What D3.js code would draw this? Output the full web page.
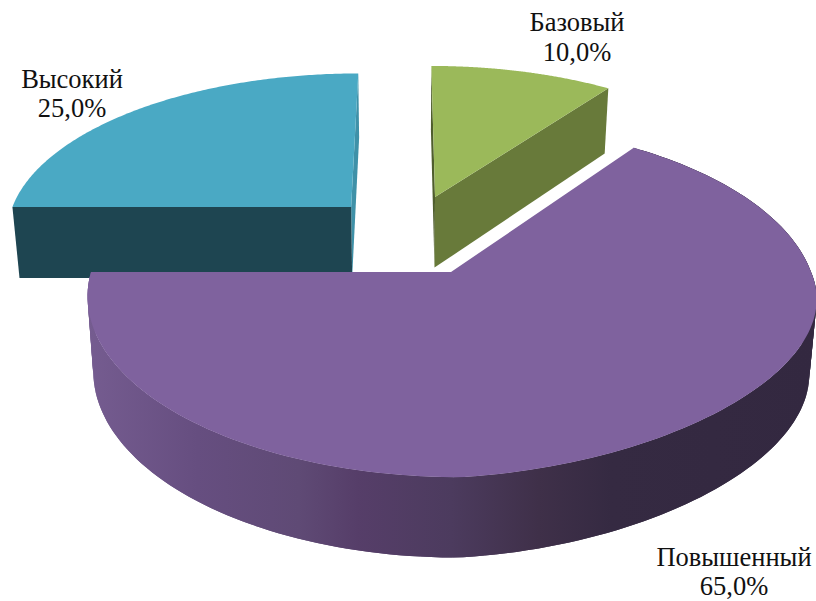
<!DOCTYPE html>
<html><head><meta charset="utf-8">
<script src="https://cdn.jsdelivr.net/npm/d3@7"></script>
<style>html,body{margin:0;padding:0;background:#fff}svg{display:block}text{font-family:"Liberation Serif","Times New Roman",serif;font-size:26.5px;fill:#111}</style>
</head><body><svg id="c" width="816" height="601"></svg>
<script>
const categories = ["Базовый","Повышенный","Высокий"];
const values = [10,65,25];
const topColors = ["#9BB95A","#7F629E","#4AA9C4"];
const sideColors = ["#687A3A","#7F629E","#1E4551"];
const edgeColors = ["#4F5E2D","#7F629E","#3F91A8"];
const labelLines = [["Базовый","10,0%"],["Повышенный","65,0%"],["Высокий","25,0%"]];

const svg = d3.select("#c");
const cx=451, cy=272, rx=360, ry=173, k=0.157, skew=7, vanishX=406;
const offsets=[[-0.0386,-0.465],[0,0],[-0.287,-0.40]];
const labelPos=[[577,31],[734,565.5],[72,87.5]];

function project(X,Y,Z){
  const w=1/(1-k*Y);
  const sx=cx+(rx*X+skew*Y)*w;
  const bend=(Y>0&&X>0) ? -24*X*Y : 0;
  return [sx+(vanishX-sx)*0.018*Z, cy+ry*Y*w+bend+Z*(73.7+6.7*Y)];
}
const line=d3.line().curve(d3.curveLinear);
const arcs=d3.pie().sort(null).value(d=>d)(values);

function ring(a,o,Z){
  const t=d3.scaleLinear().domain([0,160]).range([a.startAngle,a.endAngle]);
  return d3.range(0,161).map(i=>{const th=t(i);return project(o[0]+Math.sin(th),o[1]-Math.cos(th),Z);});
}
const defs=svg.append("defs");
const grad=defs.append("linearGradient").attr("id","rim").attr("gradientUnits","userSpaceOnUse")
  .attr("x1",88).attr("x2",815).attr("y1",0).attr("y2",0);
[[0,"#755C90"],[0.15,"#664E80"],[0.29,"#5F4A75"],[0.37,"#563E69"],[0.5,"#4C3B5E"],[0.62,"#3F3049"],[0.72,"#352A42"],[1,"#332840"]]
  .forEach(s=>grad.append("stop").attr("offset",s[0]).attr("stop-color",s[1]));

[2,0,1].forEach(i=>{
  const a=arcs[i], o=offsets[i];
  const top=ring(a,o,0), bot=ring(a,o,1);
  const c0=project(o[0],o[1],0), c1=project(o[0],o[1],1);
  const g=svg.append("g");
  const n=top.length-1;
  if(i===1){
    g.selectAll("path.wall").data(d3.range(0,n-1)).join("path").attr("class","wall")
      .attr("d",j=>line([top[j],top[j+1],top[j+2],bot[j+2],bot[j+1],bot[j]])+"Z")
      .attr("fill","url(#rim)");
  } else if(i===0){
    g.append("path").attr("d",line([c0,top[0],bot[0],c1])+"Z").attr("fill",edgeColors[0]);
    g.append("path").attr("d",line([c0,top[n],bot[n],c1])+"Z").attr("fill",sideColors[0]);
  } else {
    g.append("path").attr("d",line([c0,top[n],bot[n],c1])+"Z").attr("fill",edgeColors[2]);
    g.append("path").attr("d",line([c0,top[0],bot[0],c1])+"Z").attr("fill",sideColors[2]);
  }
  g.append("path").attr("class","face").attr("d",line([c0].concat(top))+"Z").attr("fill",topColors[i]);
});

labelLines.forEach((l,i)=>{
  const t=svg.append("text").attr("text-anchor","middle");
  l.forEach((s,j)=>t.append("tspan").attr("x",labelPos[i][0]).attr("y",labelPos[i][1]+j*29.7).text(s));
});
</script></body></html>
